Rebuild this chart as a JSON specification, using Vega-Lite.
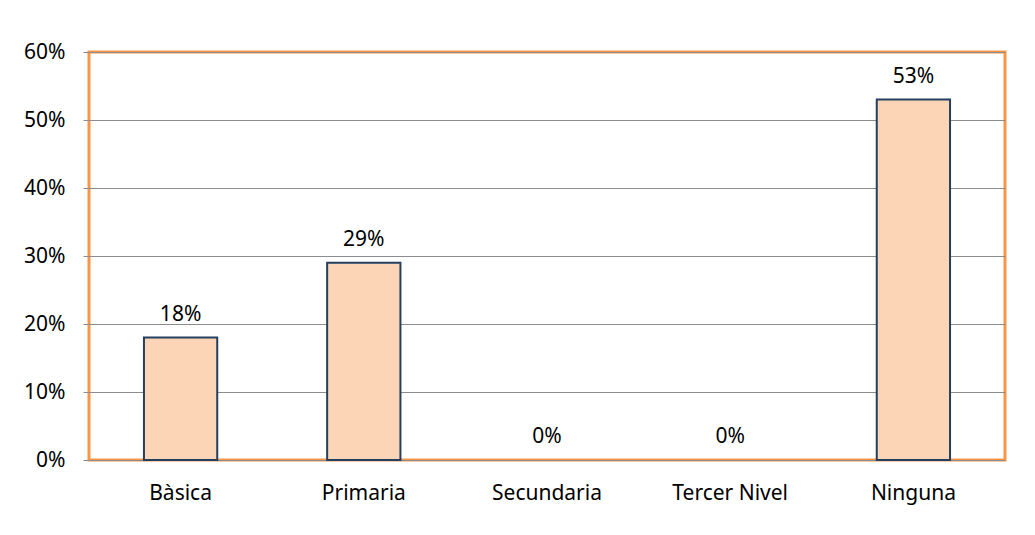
{
  "$schema": "https://vega.github.io/schema/vega-lite/v6.json",
  "autosize": "none",
  "width": 916,
  "height": 408,
  "padding": {"left": 89, "top": 52, "right": 30, "bottom": 75},
  "background": "white",
  "config": {
    "view": {"stroke": "#F79646", "strokeWidth": 3},
    "font": "Noto Sans"
  },
  "data": {
    "values": [
      {"nivel": "Bàsica", "pct": 0.18},
      {"nivel": "Primaria", "pct": 0.29},
      {"nivel": "Secundaria", "pct": 0},
      {"nivel": "Tercer Nivel", "pct": 0},
      {"nivel": "Ninguna", "pct": 0.53}
    ]
  },
  "encoding": {
    "x": {
      "field": "nivel", "type": "nominal",
      "sort": ["Bàsica", "Primaria", "Secundaria", "Tercer Nivel", "Ninguna"],
      "scale": {"domain": ["Bàsica", "Primaria", "Secundaria", "Tercer Nivel", "Ninguna"], "paddingInner": 0.6, "paddingOuter": 0.3},
      "axis": {"title": null, "labelAngle": 0, "labelFontSize": 21, "labelColor": "#000", "labelPadding": 22, "ticks": false, "domain": false, "labelFont": "Noto Sans"}
    },
    "y": {
      "field": "pct", "type": "quantitative",
      "scale": {"domain": [0, 0.6]},
      "axis": {"title": null, "format": ".0%", "values": [0, 0.1, 0.2, 0.3, 0.4, 0.5, 0.6], "labelFontSize": 21, "labelColor": "#000", "labelPadding": 18, "tickSize": 6, "tickColor": "#8c8c8c", "gridColor": "#8c8c8c", "gridOpacity": 1, "domain": false, "labelFont": "Noto Sans"}
    }
  },
  "layer": [
    {
      "transform": [{"filter": "datum.pct > 0"}],
      "mark": {"type": "bar", "fill": "#FBD5B5", "stroke": "#243F60", "strokeWidth": 2}
    },
    {
      "mark": {"type": "text", "baseline": "bottom", "dy": -13, "fontSize": 21, "color": "#000"},
      "encoding": {"text": {"field": "pct", "type": "quantitative", "format": ".0%"}}
    }
  ]
}
